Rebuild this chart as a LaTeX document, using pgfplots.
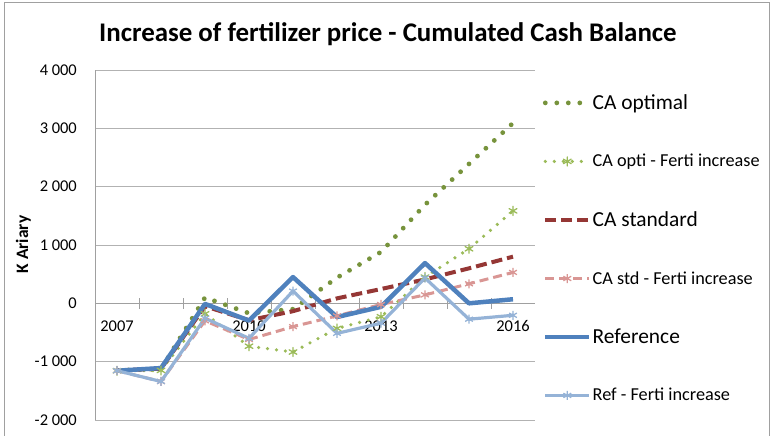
\documentclass[border=0pt]{standalone}
\usepackage{fontspec}
\setmainfont{Carlito}
\usepackage{pgfplots}
\pgfplotsset{compat=1.18}
\definecolor{cagreen}{RGB}{119,147,60}
\definecolor{lgreen}{RGB}{155,187,89}
\definecolor{dred}{RGB}{149,55,53}
\definecolor{lpink}{RGB}{217,150,148}
\definecolor{refblue}{RGB}{79,129,189}
\definecolor{lblue}{RGB}{149,179,215}
\definecolor{gridc}{RGB}{178,178,178}
\definecolor{axisc}{RGB}{160,160,160}
\newcommand{\lgbig}{\fontsize{21.5}{21.5}\selectfont\rule[-5bp]{0pt}{17bp}}
\newcommand{\lgsmall}{\fontsize{18.3}{18.3}\selectfont\rule[-5bp]{0pt}{17bp}}
\begin{document}
\begin{tikzpicture}[x=1bp,y=1bp]
\useasboundingbox (0,0) rectangle (771,436);
\draw[color=axisc, line width=1bp] (4,-5) rectangle (769,433);
\node[font=\fontsize{27}{27}\selectfont\bfseries, anchor=base] at (388,394.5) {Increase of fertilizer price - Cumulated Cash Balance};
\node[font=\fontsize{17.5}{17.5}\selectfont\bfseries, rotate=90, anchor=base] at (28,191.5) {K Ariary};
\begin{axis}[at={(95bp,16bp)}, anchor=south west, scale only axis,
  width=440bp, height=350bp,
  xmin=-0.5, xmax=9.5, ymin=-2000, ymax=4000,
  axis x line=middle, axis y line=left,
  axis line style={-, draw=axisc, line width=0.9bp},
  xtick={0,3,6,9}, xticklabels={2007,2010,2013,2016},
  minor xtick={0.5,1.5,...,8.5},
  ytick={-2000,-1000,0,1000,2000,3000,4000},
  yticklabels={-2 000,-1 000,0,1 000,2 000,3 000,4 000},
  major tick length=0bp, minor tick length=11bp, tick align=center,
  tick style={draw=axisc, line width=0.9bp},
  ymajorgrids, grid style={draw=gridc, line width=0.9bp},
  tick label style={font=\fontsize{16.5}{16.5}\selectfont},
  yticklabel style={anchor=east, inner sep=0pt, xshift=-18bp},
  xticklabel style={anchor=north, inner sep=0pt, yshift=-17bp},
  hide obscured x ticks=false, hide obscured y ticks=false,
  legend cell align=left,
  legend style={at={(1,1)}, anchor=north west, xshift=7.7bp, yshift=-24.5bp,
    draw=none, fill=none, inner sep=0pt, row sep=43.3bp, column sep=1bp,
    nodes={inner sep=0pt}},
  legend image code/.code={\draw[mark repeat=2,mark phase=2,#1,yshift=0bp] plot coordinates {(0bp,0bp) (22bp,0bp) (44bp,0bp)};},
  clip=false,
]
\addplot[cagreen, line width=4.8bp, line cap=round, dash pattern=on 0bp off 11.5bp] coordinates {
(0,-1150) (1,-1125) (2,100) (3,-170) (4,-100) (5,440) (6,880) (7,1690) (8,2390) (9,3090)};
\addlegendentry{\lgbig CA optimal}
\addplot[lgreen, line width=3.6bp, line cap=round, dash pattern=on 0bp off 9bp, mark=asterisk, mark size=4.5bp, mark options={solid, line width=1.3bp}] coordinates {
(0,-1155) (1,-1150) (2,-180) (3,-735) (4,-835) (5,-430) (6,-230) (7,450) (8,935) (9,1585)};
\addlegendentry{\lgsmall CA opti - Ferti increase}
\addplot[dred, line width=4bp, dash pattern=on 11bp off 5bp] coordinates {
(0,-1150) (1,-1120) (2,-50) (3,-290) (4,-135) (5,85) (6,245) (7,410) (8,600) (9,800)};
\addlegendentry{\lgbig CA standard}
\addplot[lpink, line width=3bp, dash pattern=on 9bp off 5bp, mark=asterisk, mark size=4.5bp, mark options={solid, line width=1.3bp}] coordinates {
(0,-1155) (1,-1340) (2,-300) (3,-620) (4,-400) (5,-215) (6,-20) (7,145) (8,335) (9,530)};
\addlegendentry{\lgsmall CA std - Ferti increase}
\addplot[refblue, line width=4.5bp, line join=round] coordinates {
(0,-1155) (1,-1110) (2,-10) (3,-295) (4,450) (5,-235) (6,-60) (7,690) (8,0) (9,70)};
\addlegendentry{\lgbig Reference}
\addplot[lblue, line width=3.2bp, line join=round, mark=asterisk, mark size=4.5bp, mark options={solid, line width=1.3bp}] coordinates {
(0,-1155) (1,-1340) (2,-255) (3,-600) (4,210) (5,-515) (6,-340) (7,434) (8,-272) (9,-205)};
\addlegendentry{\lgsmall Ref - Ferti increase}
\end{axis}
\end{tikzpicture}
\end{document}
